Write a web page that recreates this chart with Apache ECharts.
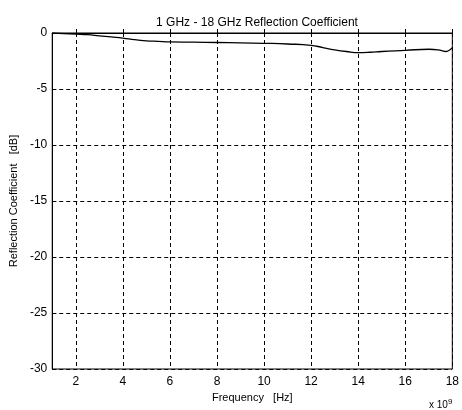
<!DOCTYPE html>
<html>
<head>
<meta charset="utf-8">
<script src="https://cdn.jsdelivr.net/npm/echarts@6/dist/echarts.min.js"></script>
<style>
  html, body { margin: 0; padding: 0; background: #fff; }
  #chart { width: 462px; height: 410px; }
</style>
</head>
<body>
<div id="chart"></div>
<script>
// frequency in GHz (axis shows x 10^9 Hz)
var freqGHz = [1, 1.5, 2, 2.5, 3, 3.5, 4, 4.5, 5, 5.5, 6, 7, 8, 9, 10, 11, 12, 12.5, 13, 13.5, 14, 14.5, 15, 16, 17, 17.4, 17.7, 18];
var reflDb  = [0, -0.05, -0.1, -0.15, -0.25, -0.35, -0.45, -0.6, -0.7, -0.75, -0.8, -0.82, -0.85, -0.88, -0.92, -0.98, -1.1, -1.3, -1.5, -1.65, -1.75, -1.72, -1.65, -1.55, -1.45, -1.5, -1.65, -1.3];
var xTicks = [2, 4, 6, 8, 10, 12, 14, 16, 18];

var points = freqGHz.map(function (f, i) { return [f, reflDb[i]]; });
var font = 'Liberation Sans, Arial, sans-serif';

var option = {
    animation: false,
    title: {
        text: '1 GHz - 18 GHz Reflection Coefficient',
        left: 252,
        textAlign: 'center',
        top: 12,
        textStyle: { fontFamily: font, fontSize: 12, fontWeight: 'normal', color: '#000' }
    },
    grid: {
        left: 48,
        right: 6,
        top: 33,
        bottom: 41,
        show: true,
        borderColor: '#000',
        borderWidth: 1
    },
    xAxis: {
        type: 'value',
        min: 1,
        max: 18,
        name: 'Frequency   [Hz]',
        nameLocation: 'middle',
        nameGap: 20,
        nameTextStyle: { fontFamily: font, fontSize: 11, color: '#000' },
        axisLine: { lineStyle: { color: '#000' } },
        axisTick: { inside: true, length: 4, customValues: xTicks, lineStyle: { color: '#000' } },
        axisLabel: { customValues: xTicks, margin: 7, fontFamily: font, fontSize: 12, color: '#000' },
        splitLine: { show: true, lineStyle: { color: '#000', type: [4, 3], width: 1 } }
    },
    yAxis: {
        type: 'value',
        min: -30,
        max: 0,
        interval: 5,
        name: 'Reflection Coefficient   [dB]',
        nameLocation: 'middle',
        nameGap: 30,
        nameTextStyle: { fontFamily: font, fontSize: 11, color: '#000' },
        axisLine: { show: true, lineStyle: { color: '#000' } },
        axisTick: { show: true, inside: true, length: 4, lineStyle: { color: '#000' } },
        axisLabel: { margin: 5, fontFamily: font, fontSize: 12, color: '#000' },
        splitLine: { show: true, lineStyle: { color: '#000', type: [4, 3], width: 1 } }
    },
    graphic: [{
        type: 'text',
        left: 429,
        top: 398,
        style: {
            text: 'x 10{s|9}',
            rich: { s: { fontSize: 8, verticalAlign: 'top', padding: [0, 0, 6, 0], fontFamily: font, fill: '#000' } },
            fontFamily: font,
            fontSize: 10,
            fill: '#000'
        }
    }],
    series: [{
        type: 'line',
        data: points,
        showSymbol: false,
        smooth: true,
        lineStyle: { color: '#000', width: 1.3 }
    }]
};

var chart = echarts.init(document.getElementById('chart'));
chart.setOption(option);
</script>
</body>
</html>
